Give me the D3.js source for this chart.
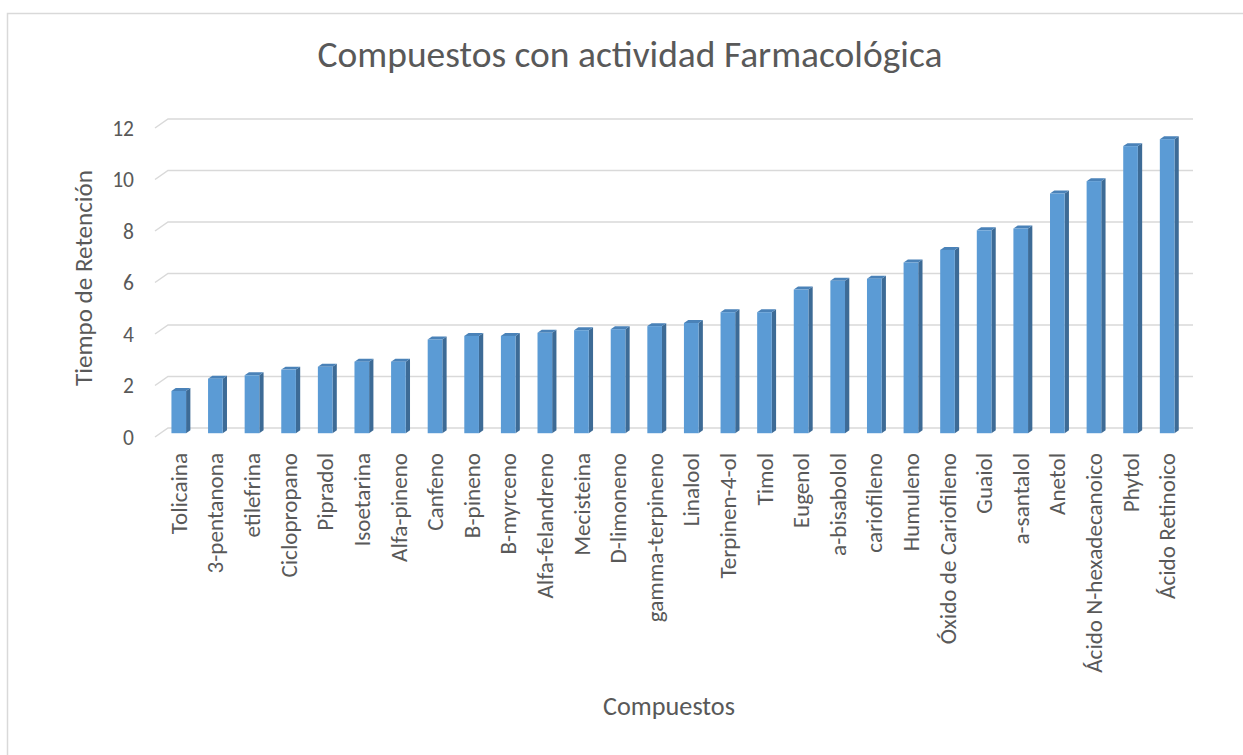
<!DOCTYPE html>
<html>
<head>
<meta charset="utf-8">
<script src="https://cdn.jsdelivr.net/npm/d3@7"></script>
<style>
  body { margin: 0; background: #fff; }
  text { font-family: Carlito, Calibri, Lato, sans-serif; fill: #595959; }
</style>
</head>
<body>
<script>
// data
var categories = ["Tolicaina", "3-pentanona", "etilefrina", "Ciclopropano", "Pipradol", "Isoetarina",
  "Alfa-pineno", "Canfeno", "B-pineno", "B-myrceno", "Alfa-felandreno", "Mecisteina", "D-limoneno",
  "gamma-terpineno", "Linalool", "Terpinen-4-ol", "Timol", "Eugenol", "a-bisabolol", "cariofileno",
  "Humuleno", "Óxido de Cariofileno", "Guaiol", "a-santalol", "Anetol", "Ácido N-hexadecanoico",
  "Phytol", "Ácido Retinoico"];
var values = [1.64, 2.12, 2.25, 2.47, 2.58, 2.78, 2.78, 3.64, 3.78, 3.78, 3.9, 4.0, 4.04, 4.16,
  4.28, 4.7, 4.7, 5.58, 5.92, 6.0, 6.63, 7.12, 7.88, 7.95, 9.31, 9.79, 11.15, 11.42];
var yTicks = [0, 2, 4, 6, 8, 10, 12];

var width = 1243;
var height = 755;
var svg = d3.select("body").append("svg")
    .attr("width", width)
    .attr("height", height);

// chart border
svg.append("rect")
    .attr("x", 7.5).attr("y", 13.5)
    .attr("width", 1300).attr("height", 800)
    .attr("fill", "none")
    .attr("stroke", "#d9d9d9")
    .attr("stroke-width", 1.5);

// depth of the 3d box (front -> back)
var depthX = 13, depthY = -9;

var x = d3.scaleBand()
    .domain(categories)
    .range([155, 1180])
    .paddingInner(0.6)
    .paddingOuter(0.3);

var y = d3.scaleLinear()
    .domain([0, 12])
    .range([437, 128]);

// gridlines: short diagonal on the side wall, then along back wall
svg.append("g").selectAll("polyline")
    .data(yTicks)
    .enter().append("polyline")
    .attr("points", function (d) {
        var yy = y(d);
        return [[155, yy], [155 + depthX, yy + depthY], [1180 + depthX, yy + depthY]].join(" ");
    })
    .attr("fill", "none")
    .attr("stroke", "#d9d9d9")
    .attr("stroke-width", 1.5);

svg.append("g").selectAll("text")
    .data(yTicks)
    .enter().append("text")
    .attr("x", 134)
    .attr("y", function (d) { return y(d); })
    .attr("dy", "0.35em")
    .attr("text-anchor", "end")
    .style("font-size", "21.5px")
    .text(function (d) { return d; });

// bars
var t0 = 0.42, t1 = 0.75;
var bars = svg.append("g").selectAll("g")
    .data(categories)
    .enter().append("g");

function pts(arr) { return arr.map(function (p) { return p.join(","); }).join(" "); }

bars.append("polygon") // side
    .attr("points", function (d, i) {
        var xr = x(d) + x.bandwidth();
        var yt = y(values[i]), yb = y(0);
        return pts([
            [xr + t0 * depthX, yb + t0 * depthY], [xr + t1 * depthX, yb + t1 * depthY],
            [xr + t1 * depthX, yt + t1 * depthY], [xr + t0 * depthX, yt + t0 * depthY]]);
    })
    .attr("fill", "#3d6b96");

bars.append("polygon") // top
    .attr("points", function (d, i) {
        var xl = x(d), xr = x(d) + x.bandwidth();
        var yt = y(values[i]);
        return pts([
            [xl + t0 * depthX, yt + t0 * depthY], [xr + t0 * depthX, yt + t0 * depthY],
            [xr + t1 * depthX, yt + t1 * depthY], [xl + t1 * depthX, yt + t1 * depthY]]);
    })
    .attr("fill", "#4a82b8");

bars.append("rect") // front
    .attr("x", function (d) { return x(d) + t0 * depthX; })
    .attr("y", function (d, i) { return y(values[i]) + t0 * depthY; })
    .attr("width", x.bandwidth())
    .attr("height", function (d, i) { return y(0) - y(values[i]); })
    .attr("fill", "#5b9bd5");

// category labels
var labels = svg.append("g").selectAll("text")
    .data(categories)
    .enter().append("text")
    .attr("transform", function (d) {
        return "translate(" + (x(d) + x.bandwidth() / 2 + t0 * depthX) + ",453) rotate(-90)";
    })
    .attr("dy", "0.35em")
    .attr("text-anchor", "end")
    .style("font-size", "20px")
    .text(function (d) { return d; });

// scale a text to a target width
function fit(sel, target, size) {
    var w = sel.node().getComputedTextLength();
    var s = size * target / w;
    sel.style("font-size", s + "px");
    return s;
}

var longest = labels.filter(function (d) { return d === "Ácido N-hexadecanoico"; });
var lblSize = fit(longest, 220, 20);
labels.style("font-size", lblSize + "px");

var title = svg.append("text")
    .attr("x", 630).attr("y", 67)
    .attr("text-anchor", "middle")
    .style("font-size", "32px")
    .style("font-weight", 300)
    .text("Compuestos con actividad Farmacológica");
fit(title, 625, 32);

var yTitle = svg.append("text")
    .attr("transform", "translate(92,278) rotate(-90)")
    .attr("text-anchor", "middle")
    .style("font-size", "22px")
    .text("Tiempo de Retención");
fit(yTitle, 216, 22);

var xTitle = svg.append("text")
    .attr("x", 669).attr("y", 715)
    .attr("text-anchor", "middle")
    .style("font-size", "20px")
    .text("Compuestos");
fit(xTitle, 132, 20);
</script>
</body>
</html>
